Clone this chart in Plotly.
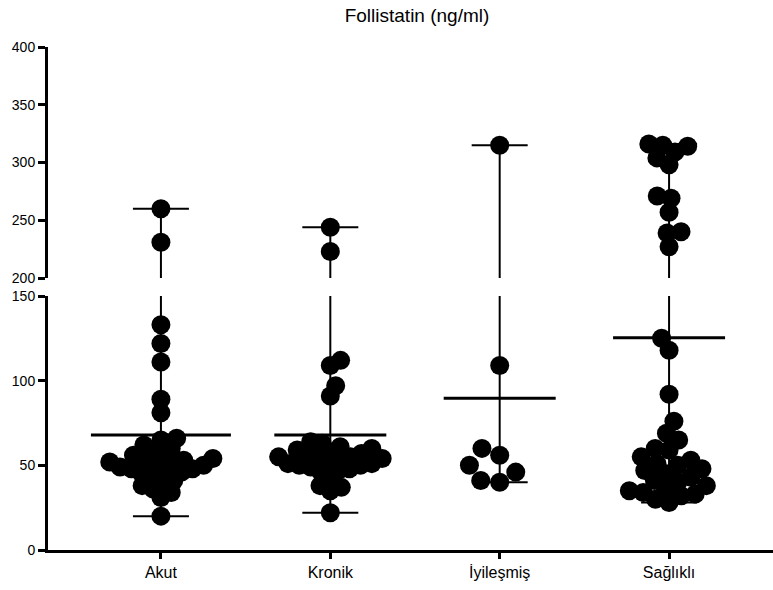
import numpy as np
import plotly.graph_objects as go

# ---------------- data ----------------
categories = ["Akut", "Kronik", "İyileşmiş", "Sağlıklı"]

akut = [260, 231, 133, 122, 111, 89, 81, 66, 65, 62, 60, 58, 56, 54, 52, 51,
        53, 55, 52, 51, 50, 49, 48, 48, 47, 46, 45, 44, 41, 40, 38, 36, 34, 31, 20]
kronik = [244, 223, 112, 109, 97, 91, 64, 63, 61, 60, 59, 58, 57, 56, 55, 54,
          51, 55, 54, 51, 54, 50, 51, 50, 49, 48, 47, 46, 42, 38, 37, 35, 22]
iyilesmis = [315, 109, 60, 56, 50, 46, 41, 40]
saglikli = [316, 315, 314, 309, 304, 298, 271, 269, 257, 240, 239, 227,
            125, 118, 92, 76, 69, 65, 60, 59, 55, 53, 51, 50, 48, 47, 45, 43,
            41, 40, 38, 36, 35, 34, 33, 32, 30, 28]

groups = [akut, kronik, iyilesmis, saglikli]

lower_ticks = [0, 50, 100, 150]
upper_ticks = [200, 250, 300, 350, 400]
title_text = "Follistatin (ng/ml)"

# ---------------- layout constants ----------------
W, H = 773, 590
ML, MR, MT, MB = 48, 0, 47, 40
plot_w = W - ML - MR
plot_h = H - MT - MB
lower_px = 254          # height of lower segment (0-150)
gap_px = 18             # axis break gap
lower_dom = [0, lower_px / plot_h]
upper_dom = [(lower_px + gap_px) / plot_h, 1]
upper_px = plot_h - lower_px - gap_px
lower_rng = [0, 150]
upper_rng = [200, 400]
x_rng = [-0.6667, 3.6136]
px_per_x = plot_w / (x_rng[1] - x_rng[0])

MARKER = 19
MIN_SEP = [11.5, 11.5, 19, 14]
mean_half_px = [70, 56, 56, 56]
cap_half_px = 28


def to_px(v):
    if v <= lower_rng[1]:
        return (v - lower_rng[0]) / (lower_rng[1] - lower_rng[0]) * lower_px
    return lower_px + gap_px + (v - upper_rng[0]) / (upper_rng[1] - upper_rng[0]) * upper_px


def swarm(ypx, d):
    n = len(ypx)
    xs = np.zeros(n)
    placed = []
    order = np.argsort(ypx)
    for k, i in enumerate(order):
        y = ypx[i]
        cands = [0.0]
        for j in placed:
            dy = y - ypx[j]
            if abs(dy) < d:
                dx = np.sqrt(d * d - dy * dy)
                cands += [xs[j] + dx, xs[j] - dx]
        sgn = 1 if k % 2 == 0 else -1
        cands.sort(key=lambda c: (round(abs(c), 3), -sgn * c))
        for c in cands:
            if all((c - xs[j]) ** 2 + (y - ypx[j]) ** 2 >= d * d - 1e-6 for j in placed):
                xs[i] = c
                break
        placed.append(i)
    return xs


fig = go.Figure()
line_col = "black"


def add_line(x, y, axis, width):
    fig.add_trace(go.Scatter(x=x, y=y, mode="lines", yaxis=axis,
                             line=dict(color=line_col, width=width),
                             hoverinfo="skip", showlegend=False, cliponaxis=False))


# lines (whiskers, caps, mean)
for i, vals in enumerate(groups):
    vmin, vmax, vmean = min(vals), max(vals), float(np.mean(vals))
    cap = cap_half_px / px_per_x
    mh = mean_half_px[i] / px_per_x
    add_line([i, i], [vmin, min(vmax, lower_rng[1])], "y", 2)
    if vmax > upper_rng[0]:
        add_line([i, i], [max(vmin, upper_rng[0]), vmax], "y2", 2)
        add_line([i - cap, i + cap], [vmax, vmax], "y2", 2)
    else:
        add_line([i - cap, i + cap], [vmax, vmax], "y", 2)
    add_line([i - cap, i + cap], [vmin, vmin], "y", 2)
    add_line([i - mh, i + mh], [vmean, vmean], "y", 3)

# points
for i, vals in enumerate(groups):
    v = np.array(vals, dtype=float)
    ypx = np.array([to_px(a) for a in v])
    offs = swarm(ypx, MIN_SEP[i]) / px_per_x
    low = v <= lower_rng[1]
    for mask, ax in [(low, "y"), (~low, "y2")]:
        if mask.sum() == 0:
            continue
        fig.add_trace(go.Scatter(x=i + offs[mask], y=v[mask], mode="markers", yaxis=ax,
                                 marker=dict(size=MARKER, color="black", line=dict(width=0)),
                                 showlegend=False, cliponaxis=False))

font_family = "Liberation Sans, Arial, sans-serif"
axis_common = dict(showline=True, linecolor="black", linewidth=3, ticks="outside",
                   tickcolor="black", tickwidth=2.5, ticklen=7, showgrid=False,
                   zeroline=False, tickfont=dict(family=font_family, size=14, color="black"))

fig.update_layout(
    width=W, height=H,
    margin=dict(l=ML, r=MR, t=MT, b=MB, pad=0),
    paper_bgcolor="white", plot_bgcolor="white",
    title=dict(text=title_text, x=417 / W, xref="container", xanchor="center",
               y=1 - 15 / H, yref="container", yanchor="middle",
               font=dict(family=font_family, size=19, color="black")),
    xaxis=dict(range=x_rng, tickmode="array", tickvals=list(range(len(categories))),
               ticktext=categories, showline=True, linecolor="black", linewidth=3,
               ticks="outside", tickcolor="black", tickwidth=2.5, ticklen=6,
               showgrid=False, zeroline=False, anchor="y",
               tickfont=dict(family=font_family, size=16, color="black")),
    yaxis=dict(domain=lower_dom, range=lower_rng, tickmode="array", tickvals=lower_ticks,
               anchor="x", **axis_common),
    yaxis2=dict(domain=upper_dom, range=upper_rng, tickmode="array", tickvals=upper_ticks,
                anchor="x", **axis_common),
    showlegend=False,
)

fig.write_html("out.html")
